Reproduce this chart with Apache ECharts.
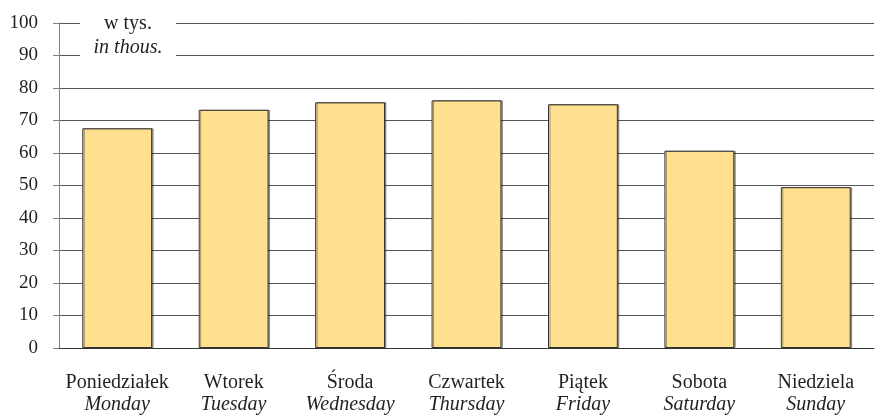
<!DOCTYPE html>
<html>
<head>
<meta charset="utf-8">
<script src="https://cdn.jsdelivr.net/npm/echarts@6/dist/echarts.min.js"></script>
<style>html,body{margin:0;padding:0;background:#fff}#c{width:875px;height:416px}</style>
</head>
<body>
<div id="c"></div>
<script>
const daysPl = ['Poniedziałek','Wtorek','Środa','Czwartek','Piątek','Sobota','Niedziela'];
const daysEn = ['Monday','Tuesday','Wednesday','Thursday','Friday','Saturday','Sunday'];
const values = [67.6, 73.3, 75.6, 76.2, 75.0, 60.7, 49.5];
const yTicks = [0,10,20,30,40,50,60,70,80,90,100];

const font = 'Liberation Serif, Times New Roman, serif';
const chart = echarts.init(document.getElementById('c'), null, {renderer:'canvas'});
chart.setOption({
  animation:false,
  grid:{left:59,right:1,top:23,bottom:68,containLabel:false},
  xAxis:{
    type:'category',
    data:daysPl.map((d,i)=>d+'\n'+daysEn[i]),
    axisLine:{lineStyle:{color:'#333',width:1}},
    axisTick:{show:false},
    axisLabel:{
      margin:24,
      formatter:function(v){const p=v.split('\n');return '{a|'+p[0]+'}\n{b|'+p[1]+'}';},
      rich:{
        a:{fontFamily:font,fontSize:20,color:'#231f20',lineHeight:22},
        b:{fontFamily:font,fontSize:20,fontStyle:'italic',color:'#231f20',lineHeight:22}
      }
    }
  },
  yAxis:{
    type:'value',min:yTicks[0],max:yTicks[yTicks.length-1],interval:10,
    axisLine:{show:true,lineStyle:{color:'#808080',width:1}},
    axisTick:{show:true,length:6,lineStyle:{color:'#808080'}},
    axisLabel:{margin:21,fontFamily:font,fontSize:19,color:'#231f20'},
    splitLine:{lineStyle:{color:'#555',width:1}}
  },
  series:[{
    type:'bar',
    data:values,
    barWidth:'60%',
    itemStyle:{color:'#fee08f',borderColor:'#333',borderWidth:1,
      shadowColor:'rgba(0,0,0,0.35)',shadowOffsetX:1.5,shadowOffsetY:0,shadowBlur:0}
  }],
  graphic:[
    {type:'rect',shape:{x:80,y:8,width:96,height:55},style:{fill:'#fff'},z:100},
    {type:'text',x:128,y:24,z:101,style:{text:'w tys.',font:'20px '+font,fill:'#231f20',align:'center',verticalAlign:'middle'}},
    {type:'text',x:128,y:48,z:101,style:{text:'in thous.',font:'italic 20px '+font,fill:'#231f20',align:'center',verticalAlign:'middle'}}
  ]
});
</script>
</body>
</html>
